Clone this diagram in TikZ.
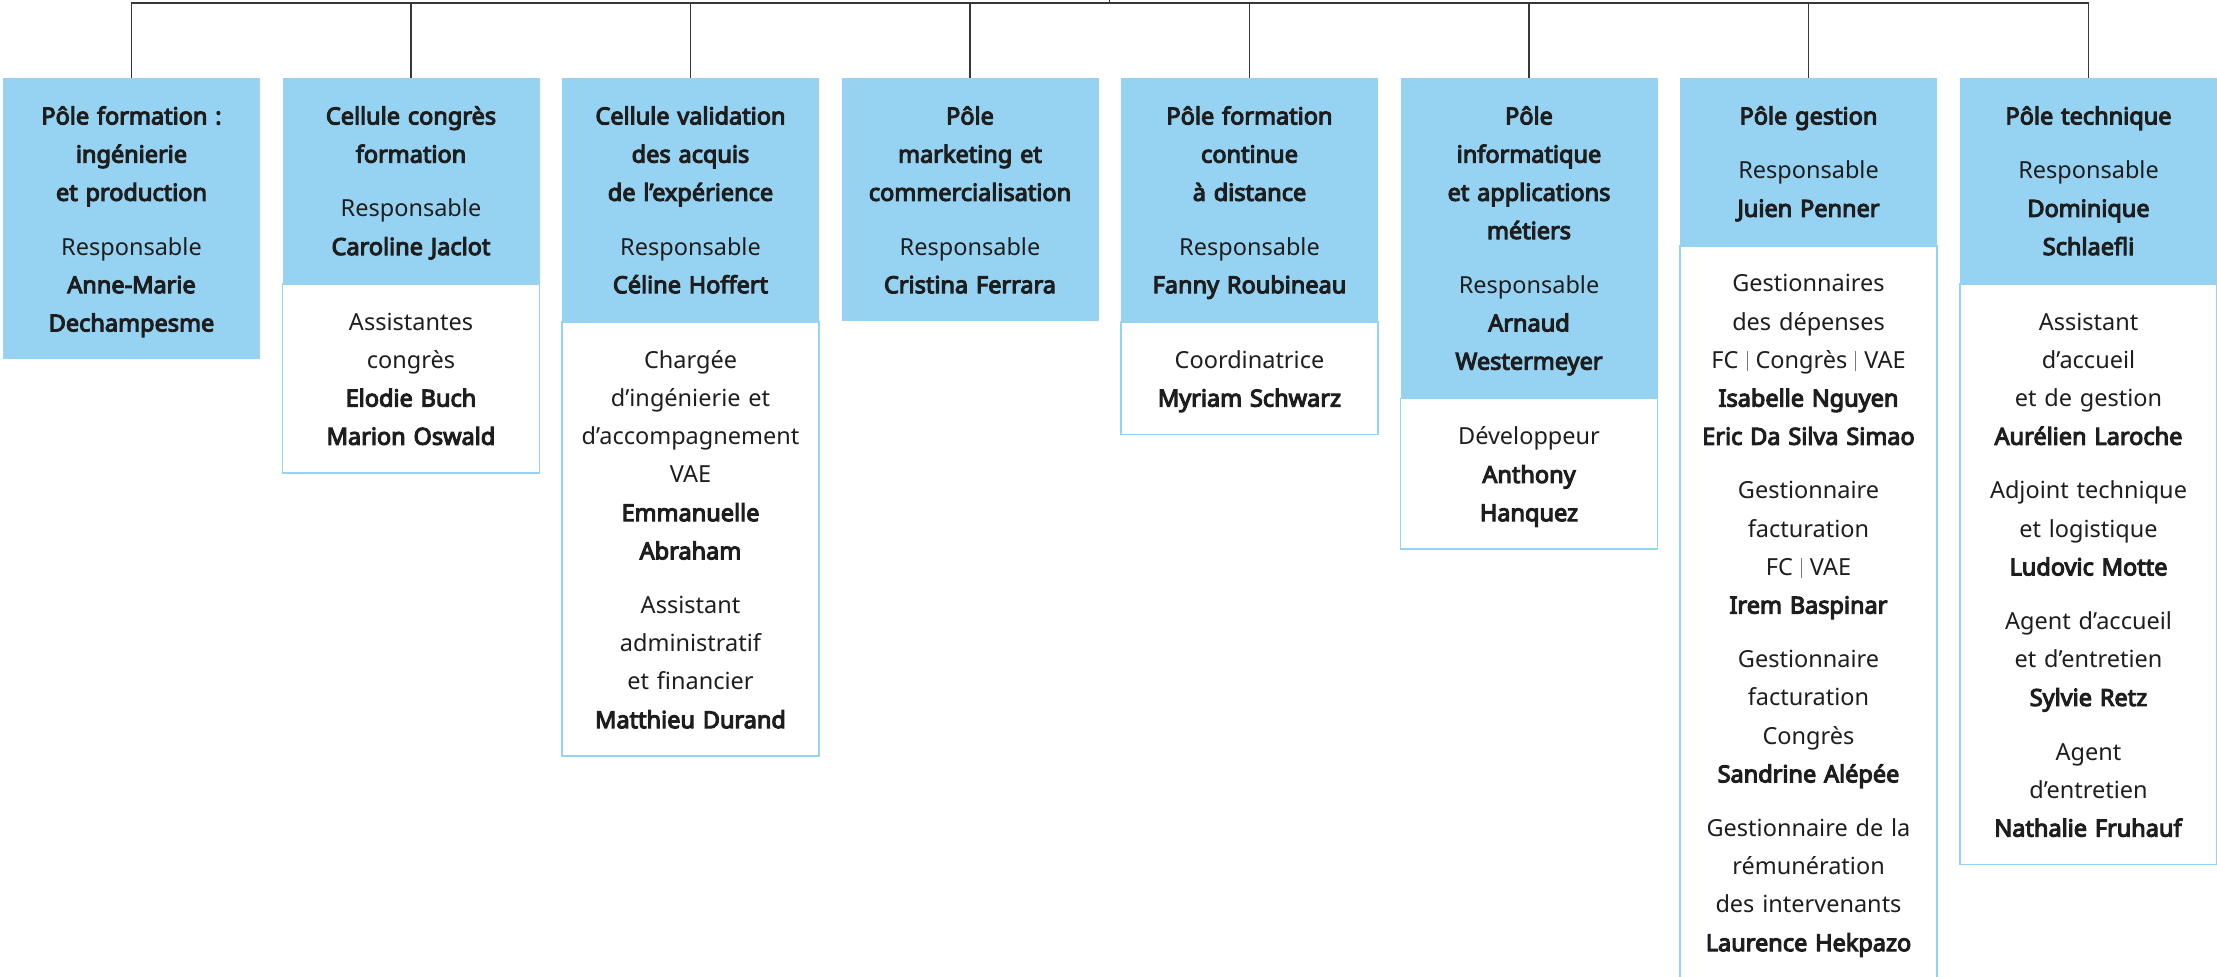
\documentclass[tikz,border=0pt]{standalone}
\usepackage{fontspec}
\setmainfont{Noto Sans}[BoldFont={Noto Sans}, BoldFeatures={FakeBold=4.6}]
\definecolor{poleblue}{RGB}{150,211,243}
\definecolor{txtc}{RGB}{30,30,30}
\definecolor{linec}{RGB}{55,55,55}
\definecolor{barc}{RGB}{120,120,120}
\newcommand{\mystrut}{\rule[-10pt]{0pt}{38.2pt}}
\newcommand{\linereg}[1]{\mystrut#1}
\newcommand{\linebold}[1]{\mystrut\textbf{#1}}
\newcommand{\sepbar}{\hspace{8pt}\textcolor{barc}{\rule[-3pt]{1pt}{20pt}}\hspace{8pt}}
\tikzset{
  orgbox/.style={rectangle, minimum width=257pt, text width=245pt, align=center,
    inner xsep=6pt, inner ysep=18pt, font=\fontsize{23.5}{38.2}\selectfont, text=txtc, anchor=north},
  bluebox/.style={orgbox, fill=poleblue},
  whitebox/.style={orgbox, fill=white, draw=poleblue, line width=1.5pt},
  conn/.style={draw=linec, line width=1.3pt}
}
\begin{document}
\begin{tikzpicture}[x=1pt, y=-1pt]
\useasboundingbox (0,0) rectangle (2217,977);
\clip (0,0) rectangle (2217,977);
\fill[white] (0,0) rectangle (2217,977);

% column 1
\node[bluebox] (b1) at (131.5,78) {\linebold{Pôle formation~:}\\\linebold{ingénierie}\\\linebold{et production}\\[16pt]\linereg{Responsable}\\\linebold{Anne-Marie}\\\linebold{Dechampesme}};
% column 2
\node[bluebox] (b2) at (411,78) {\linebold{Cellule congrès}\\\linebold{formation}\\[16pt]\linereg{Responsable}\\\linebold{Caroline Jaclot}};
\node[whitebox] (w2) at (b2.south) {\linereg{Assistantes}\\\linereg{congrès}\\\linebold{Elodie Buch}\\\linebold{Marion Oswald}};
% column 3
\node[bluebox] (b3) at (690.5,78) {\linebold{Cellule validation}\\\linebold{des acquis}\\\linebold{de l’expérience}\\[16pt]\linereg{Responsable}\\\linebold{Céline Hoffert}};
\node[whitebox] (w3) at (b3.south) {\linereg{Chargée}\\\linereg{d’ingénierie et}\\\linereg{d’accompagnement}\\\linereg{VAE}\\\linebold{Emmanuelle}\\\linebold{Abraham}\\[16pt]\linereg{Assistant}\\\linereg{administratif}\\\linereg{et financier}\\\linebold{Matthieu Durand}};
% column 4
\node[bluebox] (b4) at (970,78) {\linebold{Pôle}\\\linebold{marketing et}\\\linebold{commercialisation}\\[16pt]\linereg{Responsable}\\\linebold{Cristina Ferrara}};
% column 5
\node[bluebox] (b5) at (1249.5,78) {\linebold{Pôle formation}\\\linebold{continue}\\\linebold{à distance}\\[16pt]\linereg{Responsable}\\\linebold{Fanny Roubineau}};
\node[whitebox] (w5) at (b5.south) {\linereg{Coordinatrice}\\\linebold{Myriam Schwarz}};
% column 6
\node[bluebox] (b6) at (1529,78) {\linebold{Pôle}\\\linebold{informatique}\\\linebold{et applications}\\\linebold{métiers}\\[16pt]\linereg{Responsable}\\\linebold{Arnaud}\\\linebold{Westermeyer}};
\node[whitebox] (w6) at (b6.south) {\linereg{Développeur}\\\linebold{Anthony}\\\linebold{Hanquez}};
% column 7
\node[bluebox] (b7) at (1808.5,78) {\linebold{Pôle gestion}\\[16pt]\linereg{Responsable}\\\linebold{Juien Penner}};
\node[whitebox] (w7) at (b7.south) {\linereg{Gestionnaires}\\\linereg{des dépenses}\\\linereg{FC\sepbar Congrès\sepbar VAE}\\\linebold{Isabelle Nguyen}\\\linebold{Eric Da Silva Simao}\\[16pt]\linereg{Gestionnaire}\\\linereg{facturation}\\\linereg{FC\sepbar VAE}\\\linebold{Irem Baspinar}\\[16pt]\linereg{Gestionnaire}\\\linereg{facturation}\\\linereg{Congrès}\\\linebold{Sandrine Alépée}\\[16pt]\linereg{Gestionnaire de la}\\\linereg{rémunération}\\\linereg{des intervenants}\\\linebold{Laurence Hekpazo}\rule[-40pt]{0pt}{0pt}};
% column 8
\node[bluebox] (b8) at (2088.5,78) {\linebold{Pôle technique}\\[16pt]\linereg{Responsable}\\\linebold{Dominique}\\\linebold{Schlaefli}};
\node[whitebox] (w8) at (b8.south) {\linereg{Assistant}\\\linereg{d’accueil}\\\linereg{et de gestion}\\\linebold{Aurélien Laroche}\\[16pt]\linereg{Adjoint technique}\\\linereg{et logistique}\\\linebold{Ludovic Motte}\\[16pt]\linereg{Agent d’accueil}\\\linereg{et d’entretien}\\\linebold{Sylvie Retz}\\[16pt]\linereg{Agent}\\\linereg{d’entretien}\\\linebold{Nathalie Fruhauf}};

% connectors
\coordinate (root) at (1109.5,0);
\coordinate (bar) at (1109.5,3);
\draw[conn] (root) -- (bar);
\draw[conn, line join=miter] (b1.north) -- (b1.north |- bar) -- (b8.north |- bar) -- (b8.north);
\foreach \k in {2,...,7}{\draw[conn] (b\k.north |- bar) -- (b\k.north);}
\end{tikzpicture}
\end{document}
